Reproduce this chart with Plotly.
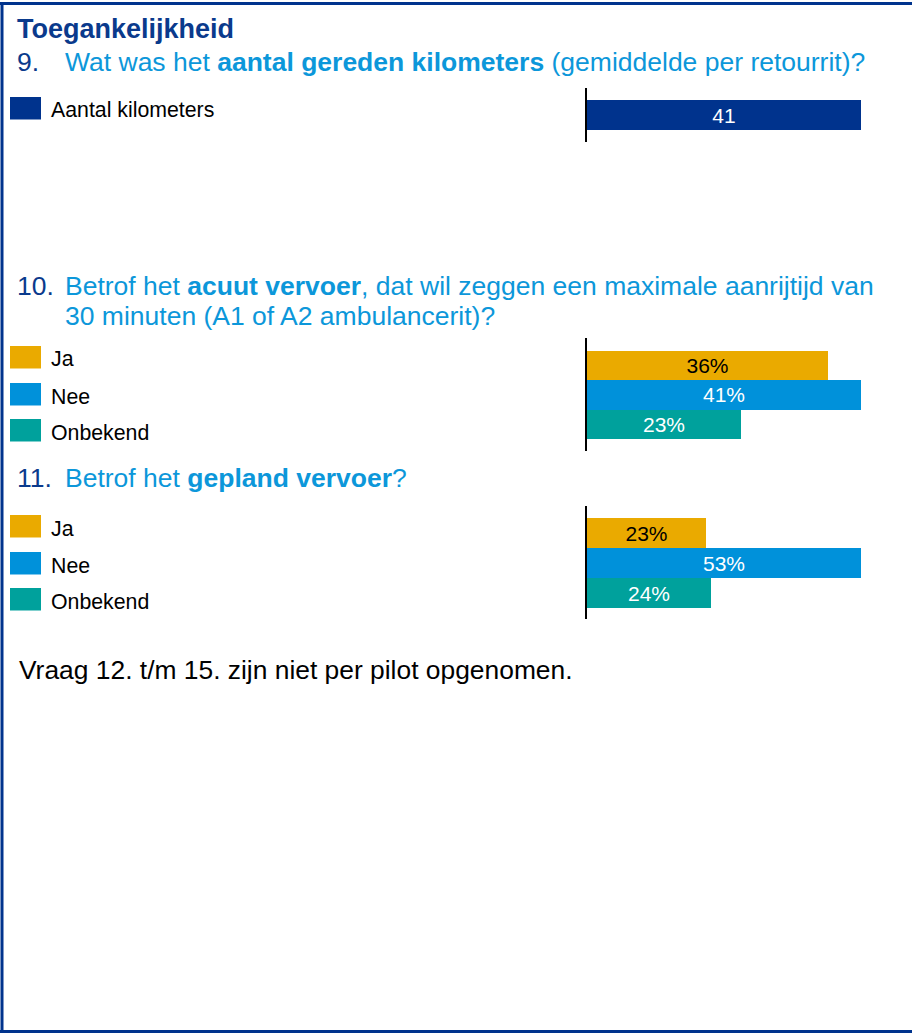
import plotly.graph_objects as go

# ---------------- data ----------------
q9_categories = ["Aantal kilometers"]
q9_values = [41]
q9_labels = ["41"]

q10_categories = ["Ja", "Nee", "Onbekend"]
q10_values = [36, 41, 23]
q10_labels = ["36%", "41%", "23%"]

q11_categories = ["Ja", "Nee", "Onbekend"]
q11_values = [23, 53, 24]
q11_labels = ["23%", "53%", "24%"]

title_text = "Toegankelijkheid"
q9_num, q9_text = "9.", "Wat was het <b>aantal gereden kilometers</b> (gemiddelde per retourrit)?"
q10_num = "10."
q10_text1 = "Betrof het <b>acuut vervoer</b>, dat wil zeggen een maximale aanrijtijd van"
q10_text2 = "30 minuten (A1 of A2 ambulancerit)?"
q11_num, q11_text = "11.", "Betrof het <b>gepland vervoer</b>?"
footnote = "Vraag 12. t/m 15. zijn niet per pilot opgenomen."

# ---------------- style ----------------
W, H = 912, 1033
FONT = "Liberation Sans, Arial, sans-serif"
DARK = "#0A3A8C"
LIGHT = "#0C97DA"
C_KM = "#00338D"
C_JA = "#EAAA00"
C_NEE = "#0091DA"
C_ONB = "#00A19C"


def fx(px):
    return px / W


def fy(py):
    return 1 - py / H


charts = [
    dict(cats=q9_categories, vals=q9_values, labels=q9_labels,
         colors=[C_KM], tcolors=["white"],
         axis=(88, 141.7), bars=(100, 129.5), swatches=[97]),
    dict(cats=q10_categories, vals=q10_values, labels=q10_labels,
         colors=[C_JA, C_NEE, C_ONB], tcolors=["black", "white", "white"],
         axis=(337.5, 450.7), bars=(350, 438.8), swatches=[346, 383, 419]),
    dict(cats=q11_categories, vals=q11_values, labels=q11_labels,
         colors=[C_JA, C_NEE, C_ONB], tcolors=["black", "white", "white"],
         axis=(506, 619.3), bars=(518, 607.7), swatches=[515, 552, 588]),
]

fig = go.Figure()
shapes = []
annotations = []
layout_axes = {}

X0, X1 = 587, 861
for i, c in enumerate(charts, start=1):
    xa = "x" if i == 1 else f"x{i}"
    ya = "y" if i == 1 else f"y{i}"
    fig.add_trace(go.Bar(
        x=c["vals"], y=c["cats"], orientation="h",
        marker=dict(color=c["colors"], line=dict(width=0)),
        width=1,
        text=c["labels"], textposition="inside", insidetextanchor="middle",
        textfont=dict(family=FONT, size=21, color=c["tcolors"]),
        constraintext="none",
        xaxis=xa, yaxis=ya, showlegend=False, hoverinfo="skip",
    ))
    n = len(c["cats"])
    at, ab = c["axis"]
    bt, bb = c["bars"]
    u = n / (bb - bt)
    yr = [n - 0.5 + (ab - bb) * u, -0.5 - (bt - at) * u]
    xkey = "xaxis" if i == 1 else f"xaxis{i}"
    ykey = "yaxis" if i == 1 else f"yaxis{i}"
    layout_axes[xkey] = dict(domain=[fx(X0), fx(X1)], range=[0, max(c["vals"])],
                             visible=False, anchor=ya, fixedrange=True)
    layout_axes[ykey] = dict(domain=[fy(ab), fy(at)], type="category",
                             categoryorder="array", categoryarray=c["cats"],
                             range=yr, showline=True, linecolor="black",
                             linewidth=2, showticklabels=False, showgrid=False,
                             zeroline=False, ticks="", anchor=xa, fixedrange=True)
    # legend swatches + labels
    for cat, col, top in zip(c["cats"], c["colors"], c["swatches"]):
        shapes.append(dict(type="rect", xref="paper", yref="paper",
                           x0=fx(10), x1=fx(41), y0=fy(top + 22.5), y1=fy(top),
                           fillcolor=col, line=dict(width=0)))
        annotations.append(dict(text=cat, x=fx(49), y=fy(top + 13.5),
                                xref="paper", yref="paper",
                                xanchor="left", yanchor="middle", showarrow=False,
                                font=dict(family=FONT, size=21.3, color="black")))


def ann(text, x, y, size, color):
    annotations.append(dict(text=text, x=fx(x), y=fy(y), xanchor="left",
                            yanchor="middle", xref="paper", yref="paper",
                            showarrow=False,
                            font=dict(family=FONT, size=size, color=color)))


QS = 26.5
ann(f"<b>{title_text}</b>", 15, 29, 27, DARK)
ann(q9_num, 15, 62, QS, DARK)
ann(q9_text, 63, 62, QS, LIGHT)
ann(q10_num, 15, 286, QS, DARK)
ann(q10_text1, 63, 286, QS, LIGHT)
ann(q10_text2, 63, 316, QS, LIGHT)
ann(q11_num, 15, 478, QS, DARK)
ann(q11_text, 63, 478, QS, LIGHT)
ann(footnote, 17, 670, 26.4, "black")

# frame lines (top, left, bottom)
for (x0, y0, x1, y1) in [(0, 3.5, W, 3.5), (2, 3.5, 2, 1031.5), (0, 1031.5, W, 1031.5)]:
    shapes.append(dict(type="line", xref="paper", yref="paper",
                       x0=fx(x0), y0=fy(y0), x1=fx(x1), y1=fy(y1),
                       line=dict(color=C_KM, width=3)))

fig.update_layout(
    width=W, height=H, margin=dict(l=0, r=0, t=0, b=0),
    paper_bgcolor="white", plot_bgcolor="rgba(0,0,0,0)",
    bargap=0, barmode="group",
    shapes=shapes, annotations=annotations,
    font=dict(family=FONT),
    **layout_axes,
)

fig.write_html("out.html", config={"displayModeBar": False},
               post_script="document.body.style.margin='0px';document.body.style.overflow='hidden';")
